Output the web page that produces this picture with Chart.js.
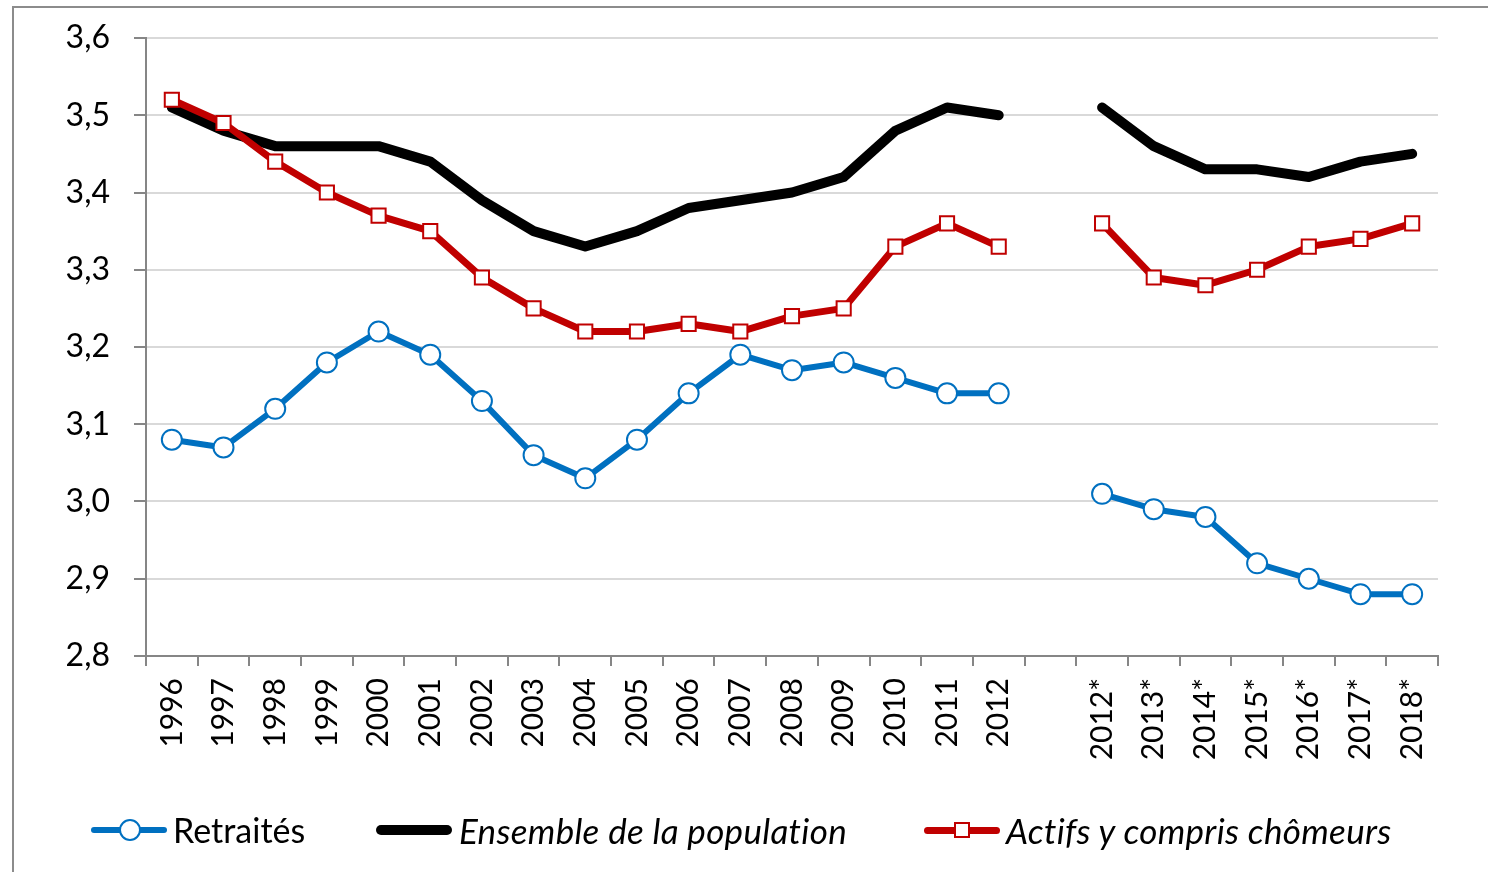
<!DOCTYPE html>
<html>
<head>
<meta charset="utf-8">
<script src="https://cdn.jsdelivr.net/npm/chart.js@4"></script>
<style>
    html, body { margin: 0; padding: 0; width: 1488px; height: 872px; overflow: hidden; background: #fff; }
    #frame { position: absolute; left: 12px; top: 6px; width: 1500px; height: 900px; border: 2px solid #8c8c8c; box-sizing: border-box; }
    #chart { position: absolute; left: 0; top: 0; }
    .legendItem { position: absolute; top: 810px; height: 40px; font-family: Lato, sans-serif; font-size: 34px; line-height: 40px; color: #000; white-space: nowrap; }
    .legendItem .swatch { position: absolute; top: 20px; width: 76px; }
    .legendItem .text { position: absolute; top: 0; }
    .legendItem .italic { font-style: italic; font-size: 35px; letter-spacing: 0.3px; }
    .line { position: absolute; left: 0; width: 76px; border-radius: 6px; }
    .mark { position: absolute; box-sizing: border-box; background: #fff; }
</style>
</head>
<body>
<div id="frame"></div>
<canvas id="chart" width="1488" height="872"></canvas>

<div class="legendItem" style="left:91px">
    <div class="swatch"><div class="line" style="top:-3px;height:6px;background:#0070c0"></div>
        <div class="mark" style="left:28px;top:-11px;width:22px;height:22px;border:2px solid #0070c0;border-radius:50%"></div></div>
    <div class="text" style="left:82px">Retraités</div>
</div>
<div class="legendItem" style="left:376px">
    <div class="swatch"><div class="line" style="top:-5px;height:10px;background:#000"></div></div>
    <div class="text italic" style="left:83px">Ensemble de la population</div>
</div>
<div class="legendItem" style="left:924px">
    <div class="swatch"><div class="line" style="top:-3px;height:7px;background:#c00000"></div>
        <div class="mark" style="left:30px;top:-8px;width:16px;height:16px;border:2px solid #c00000"></div></div>
    <div class="text italic" style="left:82px">Actifs y compris chômeurs</div>
</div>

<script>
/* ----------------------------------------------------------------------------
                                     DATA
---------------------------------------------------------------------------- */
var categories = ['1996', '1997', '1998', '1999', '2000', '2001', '2002', '2003', '2004',
                  '2005', '2006', '2007', '2008', '2009', '2010', '2011', '2012', '',
                  '2012*', '2013*', '2014*', '2015*', '2016*', '2017*', '2018*'];

var retraites = [3.08, 3.07, 3.12, 3.18, 3.22, 3.19, 3.13, 3.06, 3.03, 3.08, 3.14, 3.19, 3.17,
                 3.18, 3.16, 3.14, 3.14, null, 3.01, 2.99, 2.98, 2.92, 2.90, 2.88, 2.88];

var ensemble = [3.51, 3.48, 3.46, 3.46, 3.46, 3.44, 3.39, 3.35, 3.33, 3.35, 3.38, 3.39, 3.40,
                3.42, 3.48, 3.51, 3.50, null, 3.51, 3.46, 3.43, 3.43, 3.42, 3.44, 3.45];

var actifs = [3.52, 3.49, 3.44, 3.40, 3.37, 3.35, 3.29, 3.25, 3.22, 3.22, 3.23, 3.22, 3.24,
              3.25, 3.33, 3.36, 3.33, null, 3.36, 3.29, 3.28, 3.30, 3.33, 3.34, 3.36];

var yMin = 2.8;
var yMax = 3.6;
var yStep = 0.1;

/* ----------------------------------------------------------------------------
                                    MAIN
---------------------------------------------------------------------------- */
var axisGrey = '#868686';
var gridGrey = '#d9d9d9';

const ctx = document.getElementById('chart').getContext('2d');

const chart = new Chart(ctx, {
    type: 'line',
    data: {
        labels: categories,
        datasets: [{
            label: 'Retraités',
            data: retraites,
            borderColor: '#0070c0',
            borderWidth: 6,
            pointStyle: 'circle',
            pointRadius: 10,
            pointBorderWidth: 2,
            pointBackgroundColor: '#fff',
            pointBorderColor: '#0070c0',
            order: 1
        }, {
            label: 'Ensemble de la population',
            data: ensemble,
            borderColor: '#000',
            borderWidth: 10,
            pointRadius: 0,
            order: 2
        }, {
            label: 'Actifs y compris chômeurs',
            data: actifs,
            borderColor: '#c00000',
            borderWidth: 7,
            pointStyle: 'rect',
            pointRadius: 10,
            pointBorderWidth: 2,
            pointBackgroundColor: '#fff',
            pointBorderColor: '#c00000',
            order: 0
        }]
    },
    options: {
        responsive: false,
        animation: false,
        spanGaps: false,
        elements: {
            line: {
                tension: 0,
                borderJoinStyle: 'round',
                borderCapStyle: 'round'
            }
        },
        layout: {
            padding: { left: 0, right: 50, top: 38, bottom: 106 }
        },
        plugins: {
            legend: { display: false },
            tooltip: { enabled: false }
        },
        scales: {
            x: {
                offset: true,
                afterFit: function(scale) {
                    scale.height = 110;
                    scale.paddingTop = 0;
                    scale.paddingBottom = 0;
                },
                grid: {
                    offset: true,
                    drawOnChartArea: false,
                    tickLength: 10,
                    tickColor: axisGrey,
                    lineWidth: 2
                },
                border: { color: axisGrey, width: 2 },
                ticks: {
                    autoSkip: false,
                    minRotation: 90,
                    maxRotation: 90,
                    padding: 12,
                    color: '#000',
                    font: { family: 'Lato', size: 30 }
                }
            },
            y: {
                min: yMin,
                max: yMax,
                afterFit: function(scale) {
                    scale.width = 146;
                    scale.paddingTop = 0;
                    scale.paddingBottom = 0;
                },
                grid: {
                    color: gridGrey,
                    lineWidth: 2,
                    tickLength: 12,
                    tickColor: axisGrey
                },
                border: { color: axisGrey, width: 2 },
                ticks: {
                    stepSize: yStep,
                    padding: 24,
                    color: '#000',
                    font: { family: 'Lato', size: 32 },
                    callback: function(value) {
                        return value.toFixed(1).replace('.', ',');
                    }
                }
            }
        }
    }
});
</script>
</body>
</html>
